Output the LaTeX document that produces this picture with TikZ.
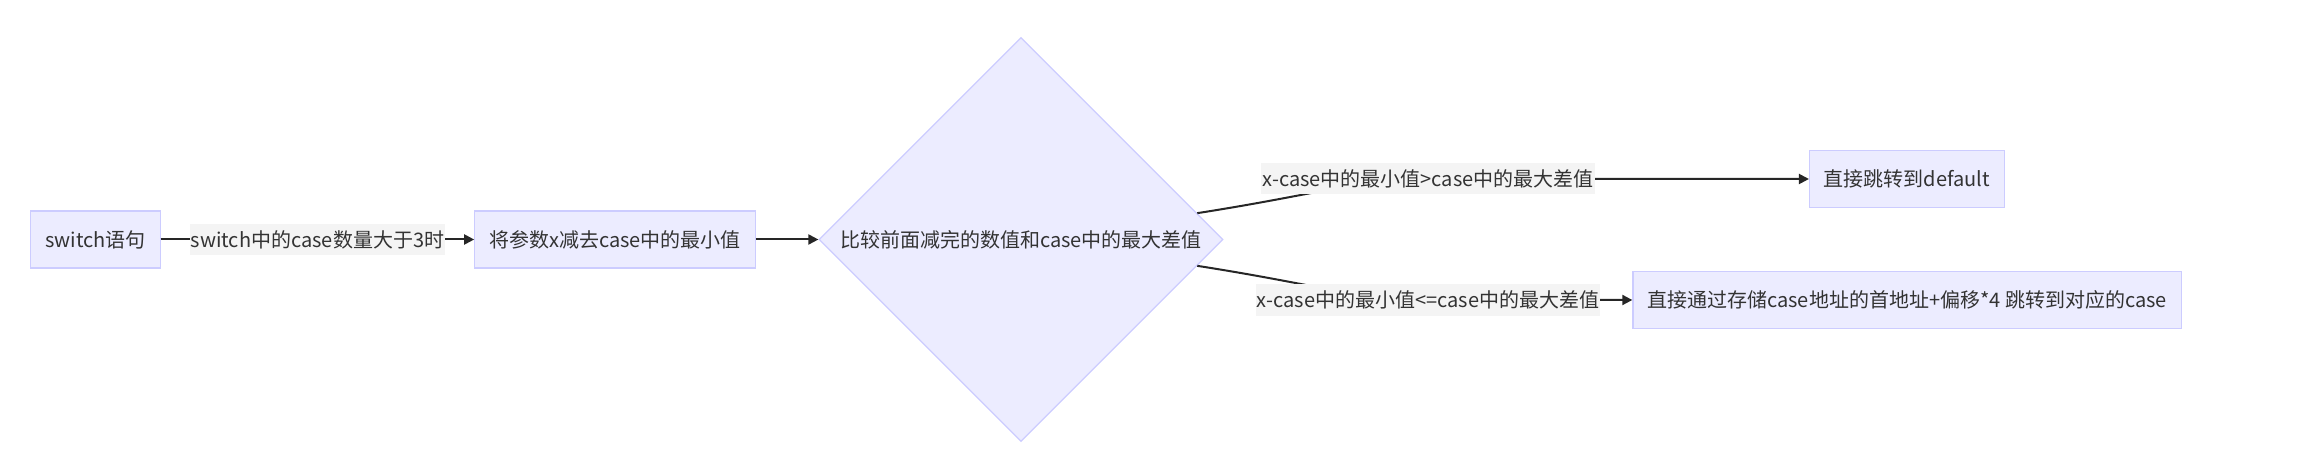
\documentclass[tikz,border=0pt]{standalone}
\usepackage{fontspec}
\setmainfont{Noto Sans CJK SC}
\usepackage[HTML]{xcolor}
\usetikzlibrary{positioning, arrows.meta, shapes.geometric, calc}

\definecolor{boxfill}{HTML}{ECECFF}
\definecolor{boxline}{HTML}{CCCCFF}
\definecolor{lblfill}{HTML}{F4F4F4}
\definecolor{txt}{HTML}{333333}

\tikzset{
  procbox/.style={draw=boxline, fill=boxfill, line width=0.6pt, text=txt,
    minimum height=28.5pt, inner xsep=7.2pt, font=\fontsize{10pt}{12pt}\selectfont},
  decbox/.style={draw=boxline, fill=boxfill, line width=0.6pt, text=txt,
    diamond, aspect=1, inner sep=0pt, minimum size=202pt,
    font=\fontsize{10pt}{12pt}\selectfont},
  edgelbl/.style={fill=lblfill, text=txt, inner xsep=0.5pt, minimum height=15.5pt,
    font=\fontsize{10pt}{12pt}\selectfont},
  flow/.style={draw=black!85, line width=1pt, -{Triangle[length=5pt,width=5pt]}}
}

\begin{document}
\begin{tikzpicture}[x=0.5pt, y=-0.5pt]
\useasboundingbox (0,0) rectangle (2310,469);

% nodes
\node[procbox] (sw)   at (95.5,239.5)  {switch语句};
\node[procbox] (sub)  at (615,239.5)   {将参数x减去case中的最小值};
\node[decbox]  (cmp)  at (1021,239.5)  {比较前面减完的数值和case中的最大差值};
\node[procbox] (dflt) at (1907,179)    {直接跳转到default};
\node[procbox] (jmp)  at (1907,300)    {直接通过存储case地址的首地址+偏移*4 跳转到对应的case};

% arrows
\draw[flow] (sw) -- node[edgelbl] {switch中的case数量大于3时} (sub);
\draw[flow] (sub) -- (cmp);

\coordinate (up) at ($(cmp.east)!0.13!(cmp.north)$);
\coordinate (dn) at ($(cmp.east)!0.13!(cmp.south)$);
\draw[flow] (up) .. controls (1320,194) and (1360,179) .. (1430,179) -- (dflt.west);
\draw[flow] (dn) .. controls (1320,285) and (1360,300) .. (1430,300) -- (jmp.west);
\node[edgelbl] (lblup) at (1428,178.5) {x-case中的最小值>case中的最大差值};
\node[edgelbl] (lbldn) at (1428,300)   {x-case中的最小值<=case中的最大差值};
\end{tikzpicture}
\end{document}
